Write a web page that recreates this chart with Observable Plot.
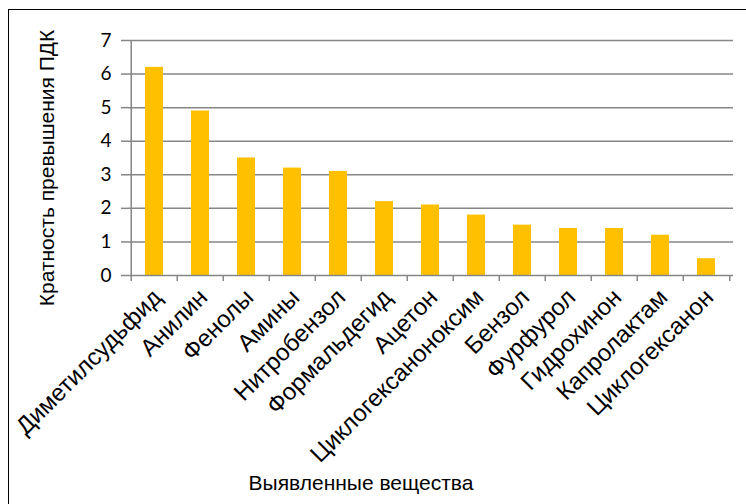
<!DOCTYPE html>
<html>
<head>
<meta charset="utf-8">
<script src="https://cdn.jsdelivr.net/npm/d3@7"></script>
<script src="https://cdn.jsdelivr.net/npm/@observablehq/plot@0.6"></script>
<style>
  html, body { margin: 0; padding: 0; background: #fff; overflow: hidden; }
  #wrap { position: relative; width: 746px; height: 504px; overflow: hidden; }
  #frame { position: absolute; left: 8px; top: 9px; width: 800px; height: 600px; border: 1.5px solid #000; box-sizing: border-box; }
  #chart { position: absolute; left: 0; top: 0; }
</style>
</head>
<body>
<div id="wrap">
  <div id="frame"></div>
  <div id="chart"></div>
</div>
<script>
const substances = ["Диметилсудьфид", "Анилин", "Фенолы", "Амины", "Нитробензол", "Формальдегид", "Ацетон", "Циклогексаноноксим", "Бензол", "Фурфурол", "Гидрохинон", "Капролактам", "Циклогексанон"];
const ratios = [6.2, 4.9, 3.5, 3.2, 3.1, 2.2, 2.1, 1.8, 1.5, 1.4, 1.4, 1.2, 0.5];
const yTicks = [0, 1, 2, 3, 4, 5, 6, 7];
const yTitle = "Кратность превышения ПДК";
const xTitle = "Выявленные вещества";

const data = substances.map((s, i) => ({name: s, value: ratios[i]}));

const W = 746, H = 504, ML = 128, MR = 13, MT = 40, MB = 229;
const bw = (W - ML - MR) / substances.length;
const axisColor = "#868686";
const font = "'Liberation Sans', Arial, sans-serif";
const last = substances[substances.length - 1];

const chart = Plot.plot({
  width: W,
  height: H,
  marginLeft: ML,
  marginRight: MR,
  marginTop: MT,
  marginBottom: MB,
  style: {background: "transparent", fontFamily: font},
  x: {domain: substances, paddingInner: 0.6, paddingOuter: 0.3, align: 0.5, label: null},
  y: {domain: [0, 7], label: null},
  marks: [
    Plot.ruleY(yTicks.slice(1), {stroke: axisColor, strokeWidth: 1.5}),
    Plot.barY(data, {x: "name", y: "value", fill: "#FFC000"}),
    Plot.ruleY([0], {stroke: axisColor, strokeWidth: 1.5}),
    Plot.ruleX([substances[0]], {x: d => d, dx: -bw / 2, y1: 0, y2: 7, stroke: axisColor, strokeWidth: 1.5}),
    Plot.ruleX(substances, {x: d => d, dx: -bw / 2, y1: 0, y2: 0, insetBottom: -6, stroke: axisColor, strokeWidth: 1.5}),
    Plot.ruleX([last], {x: d => d, dx: bw / 2, y1: 0, y2: 0, insetBottom: -6, stroke: axisColor, strokeWidth: 1.5}),
    Plot.axisY(yTicks, {tickSize: 7, stroke: axisColor, strokeWidth: 1.5, tickPadding: 10, fontSize: 19, fill: "#000", fontFamily: "Lato, 'Open Sans', sans-serif", label: null}),
    Plot.axisX({tickSize: 0, tickRotate: -45, tickPadding: 18, dx: 3, fontSize: 24, fill: "#000", label: null}),
    Plot.text([yTitle], {frameAnchor: "left", textAnchor: "middle", dx: -81, dy: 10, rotate: -90, fontSize: 21, fill: "#000"}),
    Plot.text([xTitle], {frameAnchor: "bottom", dx: -70, dy: 214, fontSize: 21, fill: "#000"})
  ]
});
document.getElementById("chart").appendChild(chart);
</script>
</body>
</html>
